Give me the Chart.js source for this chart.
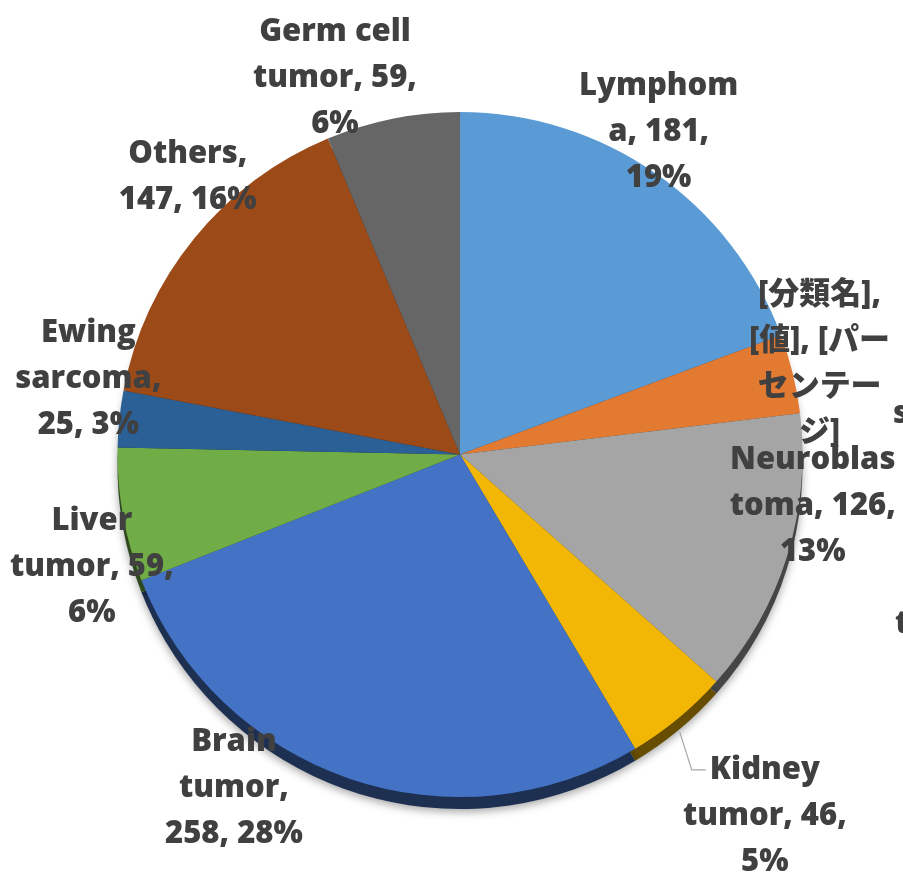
<!DOCTYPE html>
<html lang="en">
<head>
  <meta charset="UTF-8" />
  <title>Childhood cancer types</title>
  <style>
    html, body { margin: 0; padding: 0; background: #fff; }
    #wrap { width: 903px; height: 873px; }
  </style>
</head>
<body>
  <div id="wrap"><canvas id="pieChart" width="903" height="873"></canvas></div>

  <script src="https://cdn.jsdelivr.net/npm/chart.js"></script>
  <script>
    // slices, clockwise from 12 o'clock
    const categories = ['Lymphoma', '[分類名]', 'Neuroblastoma', 'Kidney tumor', 'Brain tumor',
                        'Liver tumor', 'Ewing sarcoma', 'Others', 'Germ cell tumor'];
    const counts = [181, 35, 126, 46, 258, 59, 25, 147, 59];
    const colors = ['#5B9BD5', '#E27A32', '#A5A5A5', '#F2B705', '#4472C4',
                    '#70AD47', '#2B6097', '#9C4A17', '#666666'];

    // label box centre as offset from pie centre (in radii), and where Excel wrapped the text
    const labelPos = [
      [0.58, -0.94], [1.05, -0.265], [1.03, 0.15], [0.89, 1.055], [-0.66, 0.975],
      [-1.075, 0.33], [-1.085, -0.22], [-0.795, -0.81], [-0.365, -1.10]
    ];
    const labelBreaks = [[7, 7], [6, 9, 4], [9, 10], [6, 11], [5, 7], [5, 11], [5, 9], [7], [9, 11]];

    const total = counts.reduce((a, b) => a + b, 0);
    const FONT = '800 31px "Open Sans", "Noto Sans CJK JP", sans-serif';
    const LINE_H = 46;
    const DEPTH = 12;

    function shade(hex, f) {
      const n = parseInt(hex.slice(1), 16);
      const r = Math.round(((n >> 16) & 255) * f);
      const g = Math.round(((n >> 8) & 255) * f);
      const b = Math.round((n & 255) * f);
      return `rgb(${r},${g},${b})`;
    }

    function splitAt(text, sizes) {
      const chars = Array.from(text);
      const lines = [];
      let p = 0;
      sizes.forEach(n => {
        lines.push(chars.slice(p, p + n).join('').trim());
        p += n;
      });
      lines.push(chars.slice(p).join('').trim());
      return lines.filter(l => l);
    }

    const sidePlugin = {
      id: 'side3d',
      beforeDatasetsDraw(chart) {
        const ctx = chart.ctx;
        const arcs = chart.getDatasetMeta(0).data;
        ctx.save();
        ctx.shadowColor = 'rgba(0,0,0,0.35)';
        ctx.shadowBlur = 8;
        ctx.shadowOffsetY = 3;
        arcs.forEach((a, i) => {
          ctx.beginPath();
          ctx.moveTo(a.x, a.y + DEPTH);
          ctx.arc(a.x, a.y + DEPTH, a.outerRadius, a.startAngle, a.endAngle);
          ctx.closePath();
          ctx.fillStyle = shade(colors[i], 0.42);
          ctx.fill();
        });
        ctx.restore();
      }
    };

    const labelPlugin = {
      id: 'sliceLabels',
      afterDatasetsDraw(chart) {
        const ctx = chart.ctx;
        const arcs = chart.getDatasetMeta(0).data;
        ctx.save();
        ctx.font = FONT;
        ctx.fillStyle = '#404040';
        ctx.textAlign = 'center';
        ctx.textBaseline = 'middle';
        arcs.forEach((a, i) => {
          const pct = Math.round(counts[i] / total * 100);
          let text = `${categories[i]}, ${counts[i]}, ${pct}%`;
          if (i === 1) text = '[分類名], [値], [パーセンテージ]';
          const [fx, fy] = labelPos[i];
          const lines = splitAt(text, labelBreaks[i]);
          const cx = a.x + fx * a.outerRadius;
          const cy = a.y + fy * a.outerRadius;
          const y0 = cy - (lines.length - 1) * LINE_H / 2;
          lines.forEach((ln, k) => ctx.fillText(ln, cx, y0 + k * LINE_H));

          if (categories[i] === 'Kidney tumor') {
            const mid = (a.startAngle + a.endAngle) / 2;
            const sx = a.x + Math.cos(mid) * (a.outerRadius + 2);
            const sy = a.y + Math.sin(mid) * (a.outerRadius + 2) + DEPTH;
            const left = cx - ctx.measureText(lines[0]).width / 2;
            ctx.strokeStyle = '#A6A6A6';
            ctx.lineWidth = 1.2;
            ctx.beginPath();
            ctx.moveTo(sx, sy);
            ctx.lineTo(left - 18, y0);
            ctx.lineTo(left - 4, y0);
            ctx.stroke();
          }
        });
        // fragments of labels cut off at the right edge
        ctx.textAlign = 'left';
        ctx.fillText('s', chart.width - 10, arcs[0].y - 40);
        ctx.fillText('t', chart.width - 8, arcs[0].y + 170);
        ctx.restore();
      }
    };

    new Chart(document.getElementById('pieChart').getContext('2d'), {
      type: 'pie',
      data: {
        labels: categories,
        datasets: [{
          data: counts,
          backgroundColor: colors,
          borderWidth: 0
        }]
      },
      options: {
        responsive: false,
        animation: false,
        layout: { padding: { left: 115, right: 98, top: 112, bottom: 76 } },
        plugins: {
          legend: { display: false },
          tooltip: { enabled: false }
        }
      },
      plugins: [sidePlugin, labelPlugin]
    });
  </script>
</body>
</html>
